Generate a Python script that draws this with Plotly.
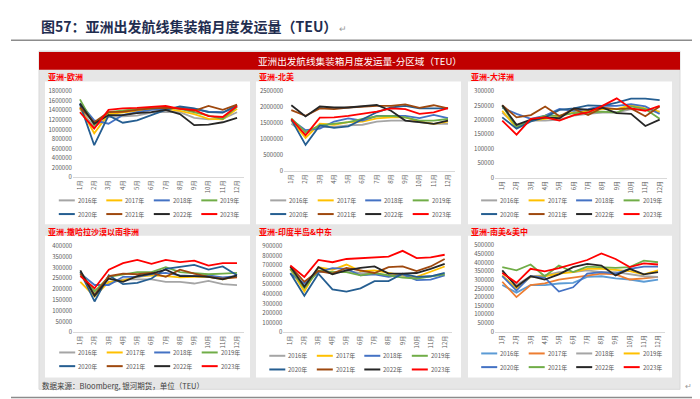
import plotly.graph_objects as go

W, H = 700, 399

months = [f"{i}月" for i in range(1, 13)]
years = ["2016年", "2017年", "2018年", "2019年", "2020年", "2021年", "2022年", "2023年"]

# ---- data (TEU), one list per year: 2016 ... 2023 ----
asia_europe = [
    [1430000, 1050000, 1260000, 1280000, 1290000, 1350000, 1370000, 1360000, 1240000, 1210000, 1220000, 1360000],
    [1460000, 920000, 1320000, 1350000, 1390000, 1430000, 1430000, 1390000, 1320000, 1220000, 1210000, 1430000],
    [1550000, 1190000, 1120000, 1300000, 1360000, 1410000, 1430000, 1460000, 1430000, 1370000, 1360000, 1470000],
    [1630000, 1090000, 1360000, 1390000, 1430000, 1440000, 1460000, 1430000, 1360000, 1300000, 1220000, 1480000],
    [1530000, 670000, 1290000, 1140000, 1190000, 1300000, 1410000, 1480000, 1440000, 1360000, 1350000, 1510000],
    [1460000, 1150000, 1360000, 1370000, 1410000, 1440000, 1450000, 1440000, 1390000, 1490000, 1410000, 1520000],
    [1540000, 1120000, 1300000, 1300000, 1340000, 1360000, 1410000, 1320000, 1090000, 1100000, 1150000, 1240000],
    [1360000, 1020000, 1410000, 1440000, 1450000, 1470000, 1490000, 1430000, 1410000, 1280000, 1260000, 1490000],
]
asia_namerica = [
    [1480000, 1170000, 1380000, 1380000, 1430000, 1450000, 1550000, 1580000, 1580000, 1530000, 1480000, 1480000],
    [1580000, 1040000, 1480000, 1450000, 1530000, 1550000, 1650000, 1680000, 1680000, 1550000, 1480000, 1550000],
    [1610000, 1280000, 1330000, 1550000, 1650000, 1580000, 1730000, 1730000, 1730000, 1660000, 1760000, 1660000],
    [1650000, 1220000, 1430000, 1480000, 1530000, 1630000, 1710000, 1730000, 1680000, 1580000, 1580000, 1630000],
    [1610000, 820000, 1430000, 1350000, 1400000, 1630000, 1840000, 1990000, 2040000, 1960000, 1960000, 1960000],
    [1910000, 1730000, 1960000, 1940000, 1990000, 2020000, 2040000, 2040000, 2090000, 1980000, 2060000, 1960000],
    [2060000, 1710000, 2020000, 1990000, 1990000, 2040000, 2070000, 1890000, 1580000, 1530000, 1480000, 1580000],
    [1630000, 1120000, 1670000, 1680000, 1730000, 1790000, 1860000, 1960000, 1940000, 1790000, 1840000, 1970000],
]
asia_oceania = [
    [226000, 181000, 198000, 198000, 201000, 215000, 221000, 226000, 226000, 238000, 235000, 226000],
    [232000, 172000, 198000, 204000, 213000, 226000, 232000, 238000, 238000, 251000, 240000, 229000],
    [243000, 221000, 204000, 215000, 238000, 232000, 238000, 249000, 249000, 255000, 247000, 221000],
    [249000, 175000, 198000, 215000, 215000, 224000, 226000, 229000, 226000, 247000, 238000, 204000],
    [209000, 170000, 195000, 209000, 235000, 240000, 251000, 249000, 260000, 274000, 274000, 269000],
    [251000, 209000, 217000, 247000, 213000, 238000, 217000, 243000, 238000, 240000, 213000, 247000],
    [251000, 183000, 201000, 209000, 206000, 240000, 235000, 243000, 224000, 221000, 179000, 201000],
    [198000, 149000, 204000, 209000, 198000, 217000, 226000, 249000, 275000, 240000, 232000, 249000],
]
asia_ssafrica = [
    [264000, 196000, 226000, 245000, 245000, 245000, 234000, 234000, 226000, 238000, 223000, 219000],
    [234000, 166000, 234000, 241000, 257000, 264000, 260000, 254000, 257000, 257000, 245000, 260000],
    [272000, 219000, 219000, 257000, 257000, 269000, 275000, 264000, 260000, 264000, 254000, 260000],
    [279000, 189000, 257000, 269000, 279000, 279000, 302000, 279000, 275000, 269000, 272000, 275000],
    [279000, 143000, 264000, 223000, 229000, 249000, 294000, 302000, 312000, 290000, 305000, 264000],
    [272000, 174000, 260000, 272000, 269000, 275000, 257000, 290000, 272000, 257000, 249000, 254000],
    [287000, 169000, 249000, 234000, 260000, 272000, 290000, 260000, 260000, 257000, 245000, 264000],
    [260000, 204000, 290000, 320000, 335000, 317000, 335000, 325000, 332000, 309000, 320000, 320000],
]
asia_india_me = [
    [652000, 492000, 628000, 628000, 638000, 618000, 611000, 584000, 594000, 571000, 584000, 604000],
    [662000, 425000, 679000, 652000, 706000, 638000, 645000, 618000, 594000, 577000, 628000, 686000],
    [611000, 509000, 628000, 669000, 662000, 594000, 604000, 577000, 604000, 543000, 550000, 594000],
    [662000, 458000, 645000, 628000, 628000, 594000, 618000, 594000, 571000, 560000, 584000, 604000],
    [618000, 380000, 611000, 448000, 425000, 458000, 533000, 533000, 611000, 577000, 584000, 618000],
    [686000, 526000, 638000, 611000, 672000, 645000, 618000, 679000, 686000, 638000, 686000, 764000],
    [686000, 475000, 679000, 604000, 645000, 672000, 686000, 611000, 611000, 618000, 662000, 713000],
    [696000, 577000, 754000, 730000, 764000, 771000, 774000, 788000, 849000, 774000, 781000, 808000],
]
asia_samerica = [
    [270000, 226000, 270000, 270000, 279000, 283000, 317000, 321000, 308000, 302000, 289000, 302000],
    [289000, 200000, 270000, 279000, 302000, 313000, 321000, 336000, 332000, 302000, 308000, 317000],
    [345000, 270000, 321000, 326000, 345000, 345000, 355000, 345000, 345000, 332000, 321000, 317000],
    [326000, 251000, 317000, 321000, 336000, 345000, 364000, 364000, 358000, 351000, 332000, 355000],
    [321000, 238000, 321000, 313000, 232000, 257000, 336000, 345000, 336000, 364000, 377000, 377000],
    [374000, 355000, 389000, 321000, 383000, 345000, 377000, 374000, 370000, 374000, 411000, 402000],
    [355000, 260000, 321000, 302000, 332000, 374000, 392000, 383000, 326000, 364000, 332000, 345000],
    [340000, 283000, 364000, 349000, 368000, 392000, 415000, 453000, 421000, 374000, 396000, 389000],
]

panel_titles = ["亚洲-欧洲", "亚洲-北美", "亚洲-大洋洲",
                "亚洲-撒哈拉沙漠以南非洲", "亚洲-印度半岛&中东", "亚洲-南美&美中"]
y_max = [1800000, 2500000, 300000, 400000, 900000, 500000]
y_step = [200000, 500000, 50000, 50000, 100000, 50000]

colors_a = ["#a5a5a5", "#ffc000", "#4472c4", "#70ad47", "#255e91", "#9e480e", "#262626", "#ff0000"]
colors_b = ["#5b9bd5", "#ed7d31", "#a5a5a5", "#ffc000", "#4472c4", "#70ad47", "#262626", "#ff0000"]

# ---- layout geometry (pixels) ----
plot_x = [(64.8, 236.2), (276.2, 447.1), (487.1, 658.8),
          (65.2, 236.1), (275.3, 443.7), (487.2, 657.1)]
plot_y = [(80, 168), (80, 161.7), (80, 168.3),
          (238.3, 326.7), (238.3, 326.7), (237.7, 326)]
legend_y = [191.7, 191.7, 191.7, 347.3, 350.7, 348.3]
white_x = [(37, 242), (248, 453), (460, 664)]
white_y = [(70, 216), (228, 373)]
title_y = [65, 223.5]

FONT = "Microsoft YaHei, Noto Sans CJK SC, sans-serif"


def fx(x):
    return x / W


def fy(y):
    return 1 - y / H


datasets = [asia_europe, asia_namerica, asia_oceania, asia_ssafrica, asia_india_me, asia_samerica]
palettes = [colors_a] * 5 + [colors_b]

fig = go.Figure()
shapes = []
annotations = []

# page decoration
annotations.append(dict(x=fx(31), y=fy(13), xref="paper", yref="paper", xanchor="left", yanchor="middle",
                        text="<b>图57：亚洲出发航线集装箱月度发运量（TEU）</b><span style='color:#9a9a9a;font-size:9px'> ↵</span>",
                        showarrow=False, font=dict(family=FONT, size=14, color="#1f2d50")))
shapes.append(dict(type="line", xref="paper", yref="paper", x0=fx(3), x1=fx(697), y0=fy(28), y1=fy(28),
                   line=dict(color="#8c8c8c", width=1.5)))
shapes.append(dict(type="rect", xref="paper", yref="paper", x0=fx(31), x1=fx(672), y0=fy(39), y1=fy(385),
                   fillcolor="#e6e6e6", line=dict(color="#d9d9d9", width=1), layer="below"))
shapes.append(dict(type="rect", xref="paper", yref="paper", x0=fx(31), x1=fx(672), y0=fy(40), y1=fy(58),
                   fillcolor="#c00000", line=dict(width=0), layer="below"))
annotations.append(dict(x=fx(352), y=fy(49), xref="paper", yref="paper", xanchor="center", yanchor="middle",
                        text="亚洲出发航线集装箱月度发运量-分区域（TEU）", showarrow=False,
                        font=dict(family=FONT, size=9.6, color="white")))
annotations.append(dict(x=fx(32), y=fy(381), xref="paper", yref="paper", xanchor="left", yanchor="middle",
                        text="数据来源：Bloomberg, 银河期货，单位（TEU）", showarrow=False,
                        font=dict(family=FONT, size=7.5, color="#404040")))
annotations.append(dict(x=fx(680), y=fy(381), xref="paper", yref="paper", xanchor="center", yanchor="middle",
                        text="↵", showarrow=False, font=dict(family=FONT, size=8, color="#9a9a9a")))
shapes.append(dict(type="line", xref="paper", yref="paper", x0=fx(3), x1=fx(690), y0=fy(393.5), y1=fy(393.5),
                   line=dict(color="#8c8c8c", width=1.5)))

for p in range(6):
    r, c = divmod(p, 3)
    wx0, wx1 = white_x[c]
    wy0, wy1 = white_y[r]
    shapes.append(dict(type="rect", xref="paper", yref="paper", x0=fx(wx0), x1=fx(wx1), y0=fy(wy0), y1=fy(wy1),
                       fillcolor="white", line=dict(width=0), layer="below"))
    annotations.append(dict(x=fx(wx0 + 1), y=fy(title_y[r]), xref="paper", yref="paper", xanchor="left",
                            yanchor="middle", text="<b>" + panel_titles[p] + "</b>", showarrow=False,
                            font=dict(family=FONT, size=8, color="#ff0000")))

    ax = "" if p == 0 else str(p + 1)
    xa, ya = "x" + ax, "y" + ax
    for i, yr in enumerate(years):
        fig.add_trace(go.Scatter(x=months, y=datasets[p][i], mode="lines", name=yr,
                                 line=dict(color=palettes[p][i], width=1.8),
                                 xaxis=xa, yaxis=ya, showlegend=False,
                                 hovertemplate="%{x}: %{y}<extra>" + yr + "</extra>"))
    px0, px1 = plot_x[p]
    py0, py1 = plot_y[p]
    fig.update_layout(**{
        "xaxis" + ax: dict(domain=[fx(px0), fx(px1)], anchor=ya, type="category",
                           range=[-0.5, 11.5], tickangle=-90, showgrid=False, showline=True,
                           linecolor="#d9d9d9", linewidth=1, ticks="", zeroline=False,
                           tickfont=dict(family=FONT, size=6, color="#595959")),
        "yaxis" + ax: dict(domain=[fy(py1), fy(py0)], anchor=xa, range=[0, y_max[p]],
                           dtick=y_step[p], tick0=0, tickformat="d", showgrid=False, showline=False,
                           zeroline=False, ticks="",
                           tickfont=dict(family=FONT, size=6, color="#595959")),
    })

    # per-panel legend: two rows of four entries
    lx = px0 - 14
    for i, yr in enumerate(years):
        rr, cc = divmod(i, 4)
        x0 = lx + cc * 47.5
        yy = legend_y[p] + rr * 14
        shapes.append(dict(type="line", xref="paper", yref="paper", x0=fx(x0), x1=fx(x0 + 16),
                           y0=fy(yy), y1=fy(yy), line=dict(color=palettes[p][i], width=2)))
        annotations.append(dict(x=fx(x0 + 17), y=fy(yy), xref="paper", yref="paper", xanchor="left",
                                yanchor="middle", text=yr, showarrow=False,
                                font=dict(family=FONT, size=6, color="#595959")))

fig.update_layout(width=W, height=H, margin=dict(l=0, r=0, t=0, b=0),
                  paper_bgcolor="white", plot_bgcolor="rgba(0,0,0,0)",
                  shapes=shapes, annotations=annotations, showlegend=False)

fig.write_html("out.html")
